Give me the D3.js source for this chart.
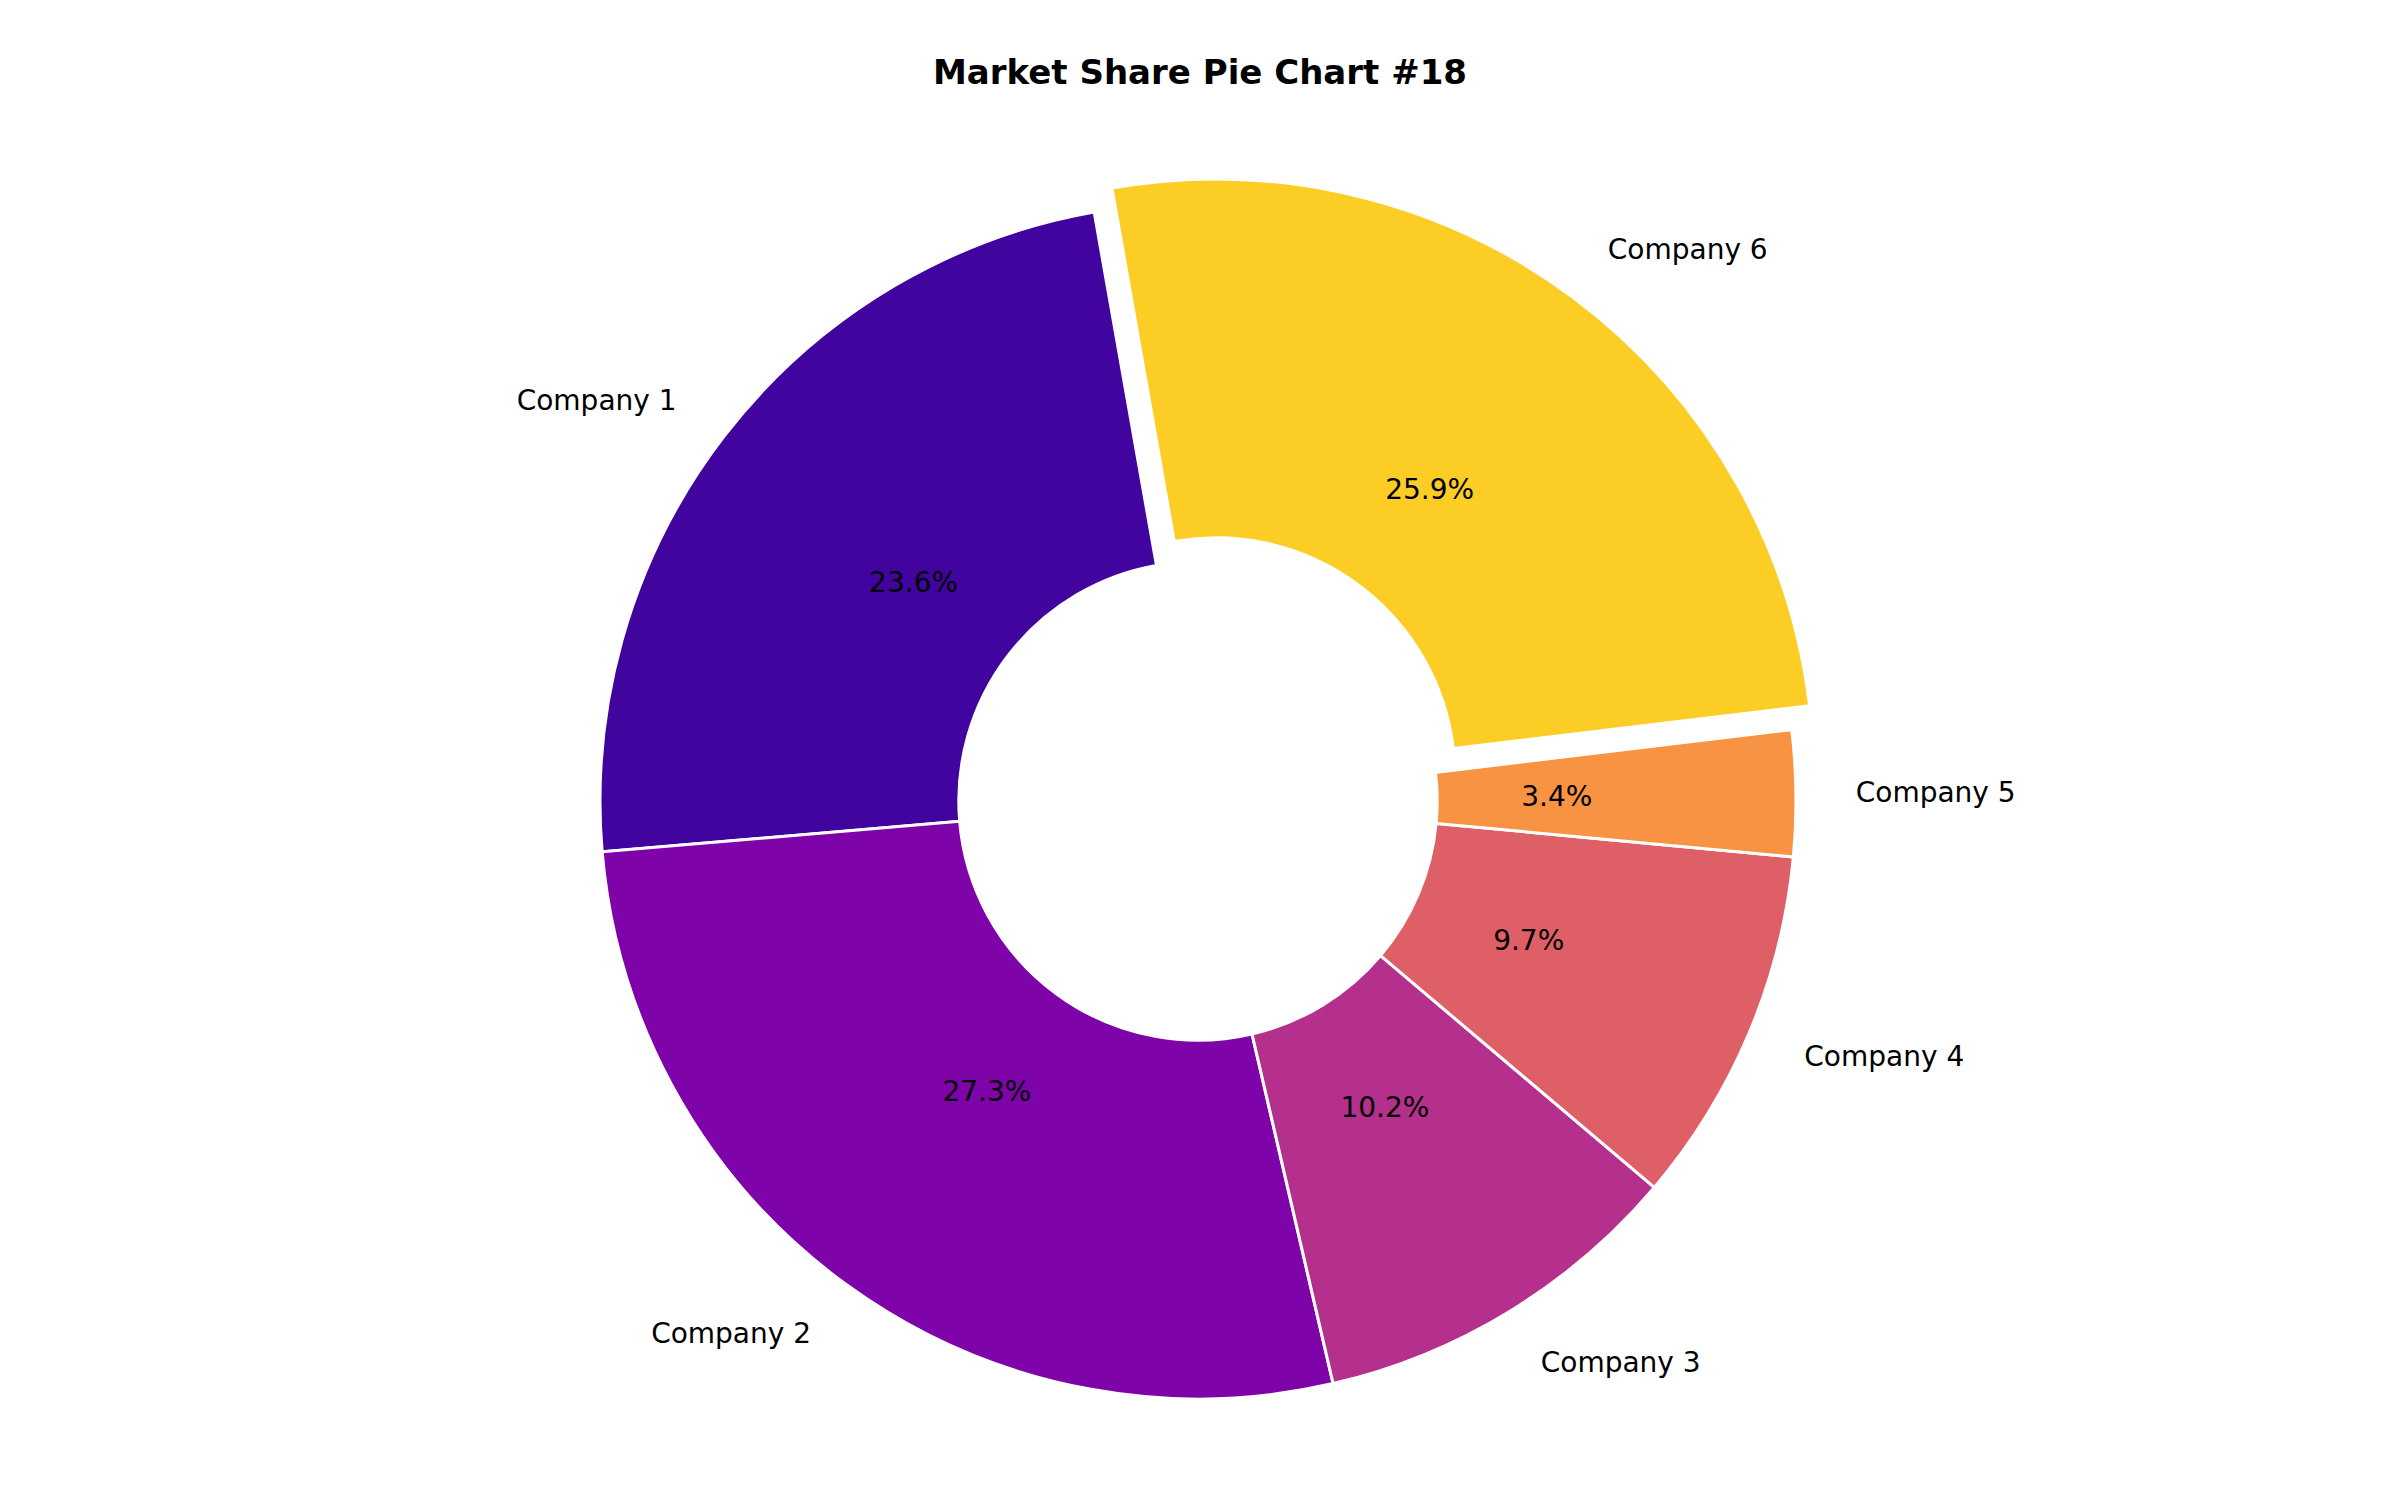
<!DOCTYPE html>
<html><head><meta charset="utf-8">
<script src="https://cdn.jsdelivr.net/npm/d3@7"></script>
<style>body{margin:0;background:#fff}</style></head>
<body><svg id="c" width="2400" height="1500"></svg>
<script>
const categories = ["Company 1","Company 2","Company 3","Company 4","Company 5","Company 6"];
const values = [23.6,27.3,10.2,9.7,3.4,25.9];
const colors = ["#42049e","#7e03a8","#b52f8c","#de5f65","#f79342","#fccd25"];
const explode = [0,0,0,0,0,0.05];

const svg = d3.select("#c");
const cx = 1198, cy = 801, R = 598;
svg.append("text").attr("x",1200).attr("y",84).attr("text-anchor","middle")
  .attr("font-family","DejaVu Sans").attr("font-weight","bold").attr("font-size",34).text("Market Share Pie Chart #18");

// matplotlib: startangle 100 deg, counterclockwise. d3: angle clockwise from 12 o'clock.
const start = (90-100)*Math.PI/180;
const pie = d3.pie().sort(null).value(d=>d)
  .startAngle(start).endAngle(start - 2*Math.PI);
const arcs = pie(values);
const arc = d3.arc().innerRadius(R*0.4).outerRadius(R);
const g = svg.append("g").attr("transform",`translate(${cx},${cy})`);
arcs.forEach((a,i)=>{
  const mid = (a.startAngle+a.endAngle)/2;
  const dx = Math.sin(mid)*explode[i]*R, dy = -Math.cos(mid)*explode[i]*R;
  const gg = g.append("g").attr("transform",`translate(${dx},${dy})`);
  gg.append("path").attr("d",arc(a)).attr("fill",colors[i]).attr("stroke","#fff").attr("stroke-width",3);
  const px = Math.sin(mid)*0.6*R, py = -Math.cos(mid)*0.6*R;
  gg.append("text").attr("x",px).attr("y",py).attr("dy","0.35em").attr("text-anchor","middle")
    .attr("font-family","DejaVu Sans").attr("font-size",28).text(values[i].toFixed(1)+"%");
  const lx = Math.sin(mid)*1.1*R, ly = -Math.cos(mid)*1.1*R;
  gg.append("text").attr("x",lx).attr("y",ly).attr("dy","0.35em")
    .attr("text-anchor", lx>0?"start":"end")
    .attr("font-family","DejaVu Sans").attr("font-size",28).text(categories[i]);
});
</script></body></html>
